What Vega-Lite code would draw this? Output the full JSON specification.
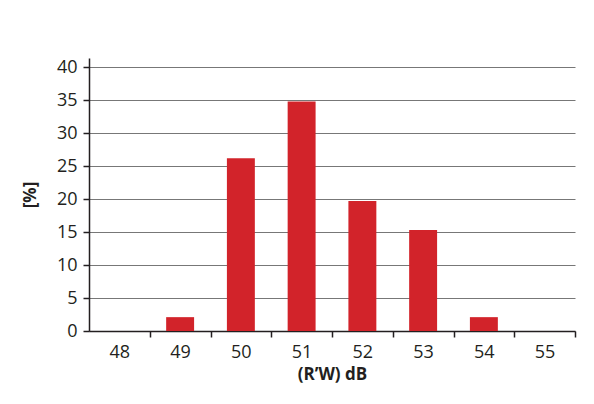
{
  "$schema": "https://vega.github.io/schema/vega-lite/v6.json",
  "autosize": {"type": "none"},
  "padding": {"left": 89, "top": 58, "right": 19, "bottom": 73},
  "width": 486,
  "height": 273,
  "background": "white",
  "data": {"values": [
    {"dB": "48", "pct": 0},
    {"dB": "49", "pct": 2.1},
    {"dB": "50", "pct": 26.2},
    {"dB": "51", "pct": 34.8},
    {"dB": "52", "pct": 19.7},
    {"dB": "53", "pct": 15.3},
    {"dB": "54", "pct": 2.1},
    {"dB": "55", "pct": 0}
  ]},
  "mark": {"type": "bar", "color": "#d2232a"},
  "encoding": {
    "x": {
      "field": "dB", "type": "ordinal",
      "scale": {"paddingInner": 0.54, "paddingOuter": 0.27},
      "axis": {
        "title": "(R’W) dB",
        "labelAngle": 0,
        "tickOffset": 30.4,
        "labelOffset": -30.4,
        "labelPadding": 6,
        "titlePadding": 5
      }
    },
    "y": {
      "field": "pct", "type": "quantitative",
      "scale": {"domain": [0, 41.4], "nice": false},
      "axis": {
        "title": "[%]",
        "values": [0, 5, 10, 15, 20, 25, 30, 35, 40],
        "labelPadding": 6,
        "titlePadding": 17
      }
    }
  },
  "config": {
    "view": {"stroke": null},
    "font": "Open Sans",
    "axis": {
      "labelFont": "Open Sans",
      "labelFontSize": 18,
      "labelColor": "#231f20",
      "titleFont": "Open Sans",
      "titleFontSize": 17,
      "titleFontWeight": "bold",
      "titleColor": "#231f20",
      "domainColor": "#231f20",
      "domainWidth": 1.5,
      "tickColor": "#231f20",
      "tickWidth": 1.5,
      "tickSize": 6,
      "gridColor": "#777777",
      "gridWidth": 1
    },
    "axisX": {"grid": false},
    "axisY": {"grid": true}
  }
}
